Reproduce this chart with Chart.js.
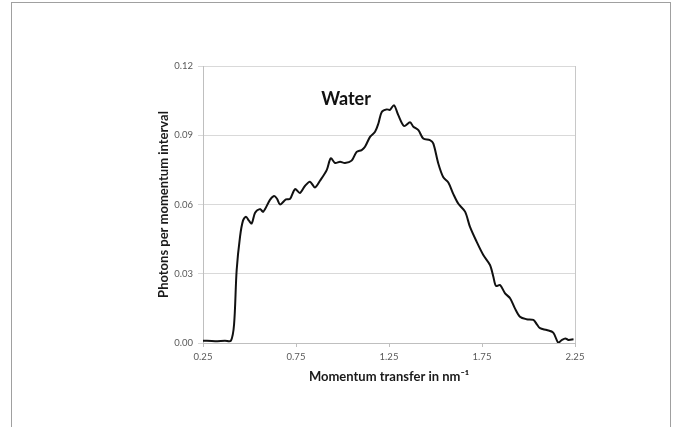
<!DOCTYPE html>
<html>
<head>
<meta charset="utf-8">
<script src="https://cdn.jsdelivr.net/npm/chart.js@4"></script>
<style>
  html, body { margin: 0; padding: 0; background: #ffffff; }
  #wrap { position: relative; width: 680px; height: 427px; overflow: hidden; }
  #c { position: absolute; left: 0; top: 0; }
  #frame { position: absolute; left: 11px; top: 2px; width: 660px; height: 450px;
           border: 1.5px solid #a0a0a0; box-sizing: border-box; pointer-events: none; }
</style>
</head>
<body>
<div id="wrap">
  <canvas id="c" width="680" height="427"></canvas>
  <div id="frame"></div>
</div>
<script>
// Momentum transfer (nm^-1)
const momentum = [
  0.25, 0.315, 0.368, 0.40, 0.417, 0.431, 0.449, 0.465, 0.481, 0.497,
  0.512, 0.530, 0.556, 0.574, 0.610, 0.632, 0.648, 0.664, 0.696, 0.718,
  0.745, 0.771, 0.798, 0.825, 0.852, 0.879, 0.915, 0.937, 0.960, 0.987,
  1.013, 1.049, 1.076, 1.103, 1.121, 1.148, 1.175, 1.193, 1.211, 1.238,
  1.255, 1.277, 1.300, 1.331, 1.363, 1.381, 1.408, 1.434, 1.470, 1.488,
  1.515, 1.542, 1.569, 1.596, 1.623, 1.659, 1.685, 1.721, 1.757, 1.793,
  1.811, 1.825, 1.847, 1.874, 1.901, 1.927, 1.954, 1.990, 2.026, 2.044,
  2.062, 2.098, 2.133, 2.160, 2.179, 2.198, 2.215, 2.242
];
// Photons per momentum interval
const photons = [
  0.0010, 0.0008, 0.0010, 0.0010, 0.0080, 0.0316, 0.0460, 0.0530, 0.0547, 0.0530,
  0.0518, 0.0564, 0.0580, 0.0569, 0.0620, 0.0637, 0.0625, 0.0600, 0.0622, 0.0624,
  0.0667, 0.0650, 0.0680, 0.0699, 0.0674, 0.0703, 0.0749, 0.0800, 0.0780, 0.0785,
  0.0780, 0.0790, 0.0828, 0.0836, 0.0850, 0.0893, 0.0915, 0.0951, 0.1001, 0.1012,
  0.1010, 0.1030, 0.0987, 0.0940, 0.0956, 0.0937, 0.0922, 0.0886, 0.0879, 0.0865,
  0.0778, 0.0718, 0.0695, 0.0645, 0.0603, 0.0569, 0.0504, 0.0439, 0.0381, 0.0338,
  0.0287, 0.0247, 0.0251, 0.0215, 0.0194, 0.0150, 0.0114, 0.0103, 0.0100, 0.0082,
  0.0064, 0.0056, 0.0045, 0.0001, 0.0013, 0.0020, 0.0013, 0.0016
];
const xTickValues = [0.25, 0.75, 1.25, 1.75, 2.25];
const yTickValues = [0.00, 0.03, 0.06, 0.09, 0.12];
const seriesLabel = "Water";
const xTitle = "Momentum transfer in nm\u207B\u00B9";
const yTitle = "Photons per momentum interval";

const labelPlugin = {
  id: 'seriesLabel',
  afterDatasetsDraw(chart) {
    const ctx = chart.ctx;
    const x = chart.scales.x.getPixelForValue(1.019);
    const y = chart.scales.y.getPixelForValue(0.1057);
    ctx.save();
    ctx.font = 'bold 18px Lato, "Open Sans", sans-serif';
    ctx.fillStyle = '#111111';
    ctx.textAlign = 'center';
    ctx.textBaseline = 'middle';
    ctx.fillText(seriesLabel, x, y);
    ctx.restore();
  }
};

const tickFont = { family: 'Lato, "Open Sans", sans-serif', size: 9.5 };
const titleFont = { family: 'Lato, "Open Sans", sans-serif', size: 13, weight: 'bold' };

new Chart(document.getElementById('c'), {
  type: 'line',
  data: {
    datasets: [{
      label: seriesLabel,
      data: momentum.map((m, i) => ({ x: m, y: photons[i] })),
      borderColor: '#111111',
      borderWidth: 2,
      pointRadius: 0,
      tension: 0.3,
      fill: false
    }]
  },
  options: {
    responsive: false,
    animation: false,
    devicePixelRatio: 1,
    layout: { padding: { left: 156, right: 105, top: 66, bottom: 42 } },
    plugins: { legend: { display: false }, tooltip: { enabled: false } },
    scales: {
      x: {
        type: 'linear',
        min: 0.25, max: 2.25,
        afterBuildTicks: (s) => { s.ticks = xTickValues.map(v => ({ value: v })); },
        afterFit: (s) => { s.height = 42; },
        ticks: {
          font: tickFont, color: '#595959', padding: 4, maxRotation: 0,
          callback: (v) => v.toFixed(2)
        },
        grid: {
          drawOnChartArea: true,
          color: (ctx) => (ctx.tick && ctx.tick.value === 2.25) ? '#c8c8c8' : 'rgba(0,0,0,0)',
          tickColor: '#bfbfbf',
          tickLength: 4,
          lineWidth: 1
        },
        border: { color: '#bfbfbf', width: 1 },
        title: {
          display: true, text: xTitle, font: titleFont, color: '#1a1a1a',
          padding: { top: 0, bottom: 0 }
        }
      },
      y: {
        type: 'linear',
        min: 0, max: 0.12,
        afterBuildTicks: (s) => { s.ticks = yTickValues.map(v => ({ value: v })); },
        afterFit: (s) => { s.width = 47; },
        ticks: {
          font: tickFont, color: '#595959', padding: 5,
          callback: (v) => v.toFixed(2)
        },
        grid: {
          color: '#d9d9d9',
          tickColor: '#d9d9d9',
          tickLength: 5,
          lineWidth: 1
        },
        border: { color: '#bfbfbf', width: 1 },
        title: {
          display: true, text: yTitle, font: titleFont, color: '#1a1a1a',
          padding: { top: 0, bottom: 0 }
        }
      }
    }
  },
  plugins: [labelPlugin]
});
</script>
</body>
</html>
